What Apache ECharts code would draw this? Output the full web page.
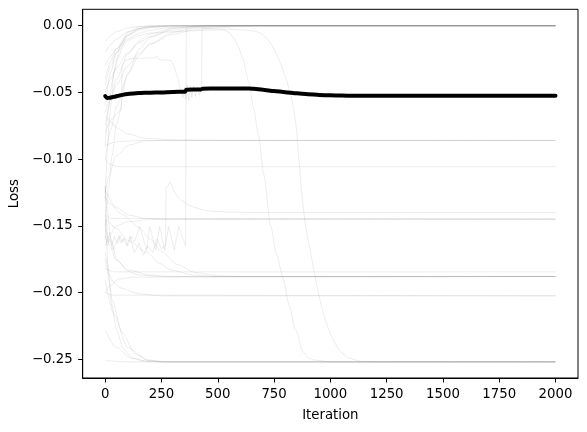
<!DOCTYPE html>
<html>
<head>
<meta charset="utf-8">
<script src="https://cdn.jsdelivr.net/npm/echarts@6/dist/echarts.min.js"></script>
<style>html,body{margin:0;padding:0;background:#fff}#c{width:587px;height:432px}</style>
</head>
<body>
<div id="c"></div>
<script>
// ---- tick labels ----
const xTicks = [0, 250, 500, 750, 1000, 1250, 1500, 1750, 2000];
const yTicks = [0, -0.05, -0.10, -0.15, -0.20, -0.25];
const xName = 'Iteration';
const yName = 'Loss';

// ---- mean loss (black) ----
const meanLoss = [[0,-0.0528],[8,-0.0542],[20,-0.054],[40,-0.0533],[60,-0.0525],[80,-0.0517],[100,-0.0512],[150,-0.0505],[200,-0.0502],[250,-0.05],[300,-0.0497],[355,-0.0495],[360,-0.048],[425,-0.0478],[432,-0.0472],[500,-0.047],[620,-0.047],[660,-0.0473],[700,-0.048],[750,-0.049],[800,-0.0498],[850,-0.0507],[900,-0.0514],[950,-0.0519],[1000,-0.0522],[1050,-0.0524],[1100,-0.0525],[2000,-0.0525]];

// ---- individual runs converging to 0 ----
const runsToZero = [
  [[0,-0.012],[25,-0.0073],[50,-0.0044],[100,-0.0016],[150,-0.0006],[250,0],[2000,0]],
  [[0,-0.02],[25,-0.014],[50,-0.0098],[100,-0.0048],[150,-0.0023],[200,-0.0011],[300,-0.0003],[400,0],[2000,0]],
  [[0,-0.03],[25,-0.0228],[50,-0.0172],[100,-0.0099],[150,-0.0057],[200,-0.0033],[300,-0.0011],[400,-0.0004],[500,0],[2000,0]],
  [[0,-0.04],[25,-0.0264],[50,-0.0174],[100,-0.0076],[150,-0.0033],[200,-0.0014],[300,-0.0003],[400,0],[2000,0]],
  [[0,-0.05],[25,-0.0398],[50,-0.0317],[100,-0.0201],[150,-0.0128],[200,-0.0081],[300,-0.0033],[400,-0.0013],[500,-0.0005],[600,0],[2000,0]],
  [[0,-0.06],[25,-0.0344],[50,-0.0197],[100,-0.0065],[150,-0.0021],[200,-0.0007],[300,0],[2000,0]],
  [[0,-0.075],[25,-0.0548],[50,-0.0401],[100,-0.0215],[150,-0.0115],[200,-0.0062],[300,-0.0018],[400,-0.0005],[500,0],[2000,0]],
  [[0,-0.09],[15,-0.062],[30,-0.0425],[50,-0.0258],[100,-0.0074],[150,-0.0021],[200,-0.0006],[300,0],[2000,0]],
  [[0,-0.13],[10,-0.0931],[20,-0.0667],[40,-0.0342],[70,-0.0126],[100,-0.0046],[150,-0.0009],[200,0],[2000,0]],
  [[0,-0.15],[15,-0.1215],[30,-0.0979],[50,-0.0736],[100,-0.0359],[150,-0.0176],[200,-0.0086],[300,-0.0021],[400,-0.0005],[500,0],[2000,0]],
  [[0,-0.065],[25,-0.0537],[50,-0.0444],[100,-0.0301],[150,-0.0205],[200,-0.0139],[300,-0.0065],[400,-0.003],[500,-0.0014],[600,-0.0006],[700,0],[2000,0]],
  [[0,-0.1],[25,-0.0779],[50,-0.0607],[100,-0.0368],[150,-0.0223],[200,-0.0135],[300,-0.005],[400,-0.0018],[500,-0.0007],[600,0],[2000,0]]
];

// ---- runs converging to the middle plateaus ----
const runsToMid = [
  [[0,-0.068],[25,-0.072],[50,-0.0765],[100,-0.081],[180,-0.0845],[300,-0.0855],[500,-0.086],[2000,-0.086]],
  [[0,-0.125],[16,-0.113],[46,-0.098],[105,-0.0895],[179,-0.0863],[253,-0.086],[2000,-0.086]],
  [[0,-0.09],[50,-0.087],[150,-0.086],[2000,-0.086]],
  [[0,-0.1],[20,-0.104],[60,-0.1057],[2000,-0.1057]],
  [[0,-0.142],[30,-0.1445],[2000,-0.145]],
  [[0,-0.123],[46,-0.136],[105,-0.142],[179,-0.1445],[253,-0.145],[2000,-0.145]],
  [[0,-0.165],[20,-0.157],[50,-0.15],[100,-0.147],[200,-0.1452],[2000,-0.145]]
];

// ---- runs converging to about -0.19 / -0.20 ----
const runsToLow = [
  [[0,-0.12],[10,-0.14],[25,-0.16],[50,-0.175],[100,-0.184],[150,-0.187],[250,-0.188],[2000,-0.188]],
  [[0,-0.15],[20,-0.165],[50,-0.176],[100,-0.183],[200,-0.187],[300,-0.188],[2000,-0.188]],
  [[0,-0.143],[50,-0.152],[100,-0.161],[186,-0.17],[240,-0.178],[290,-0.183],[393,-0.187],[500,-0.188],[2000,-0.188]],
  [[0,-0.128],[15,-0.133],[80,-0.142],[148,-0.151],[200,-0.16],[255,-0.17],[320,-0.179],[400,-0.185],[500,-0.1875],[600,-0.188],[2000,-0.188]],
  [[0,-0.182],[40,-0.1845],[2000,-0.1845]],
  [[0,-0.2],[20,-0.195],[60,-0.19],[120,-0.1885],[2000,-0.188]],
  [[0,-0.175],[15,-0.186],[40,-0.193],[75,-0.197],[150,-0.201],[250,-0.2025],[2000,-0.2025]],
  [[0,-0.2],[30,-0.202],[2000,-0.2025]]
];

// ---- runs converging to about -0.25 ----
const runsToBottom = [
  [[0,-0.191],[38,-0.216],[98,-0.241],[186,-0.2505],[260,-0.252],[2000,-0.252]],
  [[0,-0.17],[9,-0.178],[31,-0.206],[75,-0.23],[134,-0.246],[194,-0.251],[280,-0.252],[2000,-0.252]],
  [[0,-0.228],[46,-0.2408],[120,-0.2495],[179,-0.2515],[250,-0.252],[2000,-0.252]],
  [[0,-0.12],[5,-0.16],[15,-0.19],[30,-0.21],[50,-0.228],[80,-0.242],[120,-0.249],[180,-0.2515],[250,-0.252],[2000,-0.252]],
  [[0,-0.251],[100,-0.252],[2000,-0.252]],
  [[0,-0.045],[25,-0.03],[50,-0.02],[100,-0.011],[150,-0.0075],[200,-0.0055],[300,-0.0045],[400,-0.0038],[500,-0.003],[526,-0.0032],[550,-0.005],[570,-0.009],[590,-0.015],[610,-0.024],[637,-0.042],[659,-0.062],[681,-0.082],[705,-0.112],[734,-0.1496],[762,-0.172],[791,-0.19],[818,-0.21],[845,-0.228],[880,-0.2447],[905,-0.2495],[933,-0.2507],[1000,-0.252],[2000,-0.252]]
];

// ---- jumpy runs (not smoothed) ----
const runsJumpy = [
  [[0,-0.08],[20,-0.072],[50,-0.066],[72,-0.063],[75,-0.03],[90,-0.026],[120,-0.0245],[220,-0.0242],[228,-0.0225],[240,-0.0255],[290,-0.026],[305,-0.03],[320,-0.038],[335,-0.048],[345,-0.054],[352,-0.046],[358,-0.055],[364,-0.044],[371,-0.056],[378,-0.045],[385,-0.054],[393,-0.045],[401,-0.053],[410,-0.046],[418,-0.052],[428,-0.048],[430,-0.002],[500,-0.0025],[600,-0.003],[650,-0.0038],[675,-0.0045],[700,-0.0068],[719,-0.0095],[740,-0.0145],[763,-0.022],[785,-0.031],[808,-0.042],[825,-0.053],[837,-0.062],[845,-0.071],[852,-0.082],[860,-0.1],[870,-0.12],[880,-0.137],[890,-0.15],[900,-0.16],[911,-0.168],[925,-0.182],[940,-0.195],[960,-0.21],[980,-0.222],[1005,-0.233],[1031,-0.241],[1055,-0.246],[1080,-0.249],[1130,-0.2515],[1178,-0.252],[2000,-0.252]],
  [[0,-0.16],[5,-0.145],[12,-0.162],[20,-0.155],[30,-0.165],[40,-0.158],[55,-0.163],[65,-0.157],[75,-0.162],[85,-0.159],[100,-0.165],[115,-0.158],[130,-0.162],[153,-0.1507],[184,-0.168],[197,-0.1507],[224,-0.168],[242,-0.1507],[264,-0.168],[282,-0.1507],[307,-0.168],[326,-0.1507],[357,-0.165],[360,-0.0012],[400,-0.0006],[450,0],[2000,0]],
  [[0,-0.158],[10,-0.165],[20,-0.16],[35,-0.168],[50,-0.162],[60,-0.158],[70,-0.163],[80,-0.16],[95,-0.165],[110,-0.158],[130,-0.17],[150,-0.163],[170,-0.172],[190,-0.165],[210,-0.17],[230,-0.16],[250,-0.167],[268,-0.165],[270,-0.121],[280,-0.12],[287,-0.117],[295,-0.12],[305,-0.124],[320,-0.128],[335,-0.1305],[350,-0.132],[370,-0.1343],[393,-0.136],[430,-0.1378],[467,-0.139],[550,-0.1398],[690,-0.14],[2000,-0.14]]
];

const GRAY = 'rgba(128,128,128,0.14)';
const FONT = 'DejaVu Sans';
const FS = 13.3;

function grayLine(run, smooth) {
  return {
    type: 'line', data: run, showSymbol: false, symbol: 'none', silent: true,
    smooth: smooth ? 0.25 : false, smoothMonotone: 'x',
    lineStyle: { color: GRAY, width: 1 }, z: 2
  };
}

const series = [];
[runsToZero, runsToMid, runsToLow, runsToBottom].forEach(g => g.forEach(r => series.push(grayLine(r, true))));
runsJumpy.forEach(r => series.push(grayLine(r, false)));
series.push({
  type: 'line', data: meanLoss, showSymbol: false, symbol: 'none', silent: true,
  smooth: 0.2, smoothMonotone: 'x',
  lineStyle: { color: '#000', width: 4, cap: 'round', join: 'round' }, z: 5
});

function fmtY(v) {
  const a = Math.abs(v) < 1e-9 ? 0 : v;
  return (a < 0 ? '\u2212' : '') + Math.abs(a).toFixed(2);
}

const chart = echarts.init(document.getElementById('c'), null, { renderer: 'canvas' });
chart.setOption({
  animation: false,
  backgroundColor: '#fff',
  grid: { left: 82.7, right: 9, top: 9.3, bottom: 54, show: true, borderColor: '#000', borderWidth: 1, containLabel: false },
  xAxis: {
    type: 'value', min: -100, max: 2100,
    name: xName, nameLocation: 'middle', nameGap: 31,
    nameTextStyle: { color: '#000', fontFamily: FONT, fontSize: FS },
    axisLine: { show: true, onZero: false, lineStyle: { color: '#000', width: 1 } },
    axisTick: { show: true, inside: false, length: 4.5, customValues: xTicks, lineStyle: { color: '#000', width: 1 } },
    axisLabel: { show: true, margin: 10.5, customValues: xTicks, color: '#000', fontFamily: FONT, fontSize: FS, formatter: v => String(v) },
    splitLine: { show: false }
  },
  yAxis: {
    type: 'value', min: -0.2641, max: 0.0123,
    name: yName, nameLocation: 'middle', nameGap: 54, nameRotate: 90,
    nameTextStyle: { color: '#000', fontFamily: FONT, fontSize: FS },
    axisLine: { show: true, onZero: false, lineStyle: { color: '#000', width: 1 } },
    axisTick: { show: true, inside: false, length: 4.5, customValues: yTicks, lineStyle: { color: '#000', width: 1 } },
    axisLabel: { show: true, margin: 10, customValues: yTicks, color: '#000', fontFamily: FONT, fontSize: FS, formatter: fmtY },
    splitLine: { show: false }
  },
  series: series
});
</script>
</body>
</html>
